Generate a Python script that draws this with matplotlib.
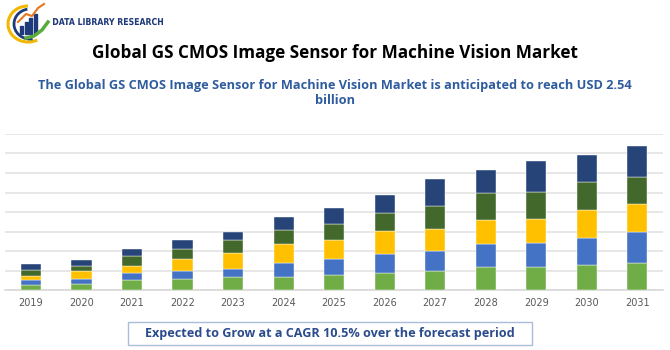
import matplotlib.pyplot as plt
import matplotlib.patches as mpatches
from matplotlib.textpath import TextPath
from matplotlib.font_manager import FontProperties
from matplotlib.transforms import Affine2D, IdentityTransform
import numpy as np

years = ['2019', '2020', '2021', '2022', '2023', '2024', '2025',
         '2026', '2027', '2028', '2029', '2030', '2031']
seg1 = [0.24, 0.29, 0.50, 0.55, 0.65, 0.68, 0.79, 0.87, 0.97, 1.16, 1.18, 1.28, 1.38]
seg2 = [0.29, 0.27, 0.35, 0.41, 0.43, 0.69, 0.78, 0.96, 1.01, 1.20, 1.23, 1.40, 1.61]
seg3 = [0.20, 0.40, 0.40, 0.61, 0.80, 0.99, 1.01, 1.21, 1.15, 1.23, 1.25, 1.42, 1.42]
seg4 = [0.31, 0.29, 0.49, 0.53, 0.68, 0.72, 0.80, 0.91, 1.16, 1.37, 1.38, 1.42, 1.38]
seg5 = [0.29, 0.27, 0.35, 0.45, 0.43, 0.66, 0.81, 0.94, 1.42, 1.18, 1.56, 1.42, 1.61]
colores = ['#70AD47', '#4472C4', '#FFC000', '#43682B', '#264478']

fig = plt.figure(figsize=(6.7, 3.5), dpi=100)
fig.patch.set_facecolor('white')

# Grafico de barras apiladas
ax = fig.add_axes([5 / 670, 1 - 290 / 350, 658 / 670, 156 / 350])
x = np.arange(len(years))
base = np.zeros(len(years))
for serie, color in zip([seg1, seg2, seg3, seg4, seg5], colores):
    ax.bar(x, serie, width=0.4, bottom=base, color=color,
           edgecolor='white', linewidth=0.3, zorder=3)
    base += np.array(serie)

ax.set_xlim(-0.515, 12.51)
ax.set_ylim(0, 8)
ax.set_yticks(range(0, 9))
ax.yaxis.grid(True, color='#E3E3E3', linewidth=1.2, zorder=0)
ax.set_yticklabels([])
ax.tick_params(axis='y', length=0)
ax.set_xticks(x)
ax.set_xticklabels(years, fontsize=7, color='#595959')
ax.tick_params(axis='x', length=0, pad=6)
for s in ['top', 'right', 'left']:
    ax.spines[s].set_visible(False)
ax.spines['bottom'].set_color('#D9D9D9')
ax.spines['bottom'].set_linewidth(1.2)

# Titulos
fig.text(0.5, 1 - 53 / 350, 'Global GS CMOS Image Sensor for Machine Vision Market',
         ha='center', va='center', fontsize=12.3, fontweight='bold',
         color='black', family='Open Sans')
fig.text(0.5, 1 - 85 / 350,
         'The Global GS CMOS Image Sensor for Machine Vision Market is anticipated to reach USD 2.54',
         ha='center', va='center', fontsize=9.2, fontweight='bold',
         color='#2E5C9E', family='Open Sans')
fig.text(0.5, 1 - 101 / 350, 'billion', ha='center', va='center', fontsize=9.2,
         fontweight='bold', color='#2E5C9E', family='Open Sans')

# Caja inferior
fig.patches.append(mpatches.Rectangle((128 / 670, 1 - 345 / 350), 404 / 670, 23 / 350,
                                      transform=fig.transFigure, facecolor='white',
                                      edgecolor='#A9BCD8', linewidth=1))
fig.text(330 / 670, 1 - 333 / 350, 'Expected to Grow at a CAGR 10.5% over the forecast period',
         ha='center', va='center', fontsize=9.1, fontweight='bold',
         color='#2B4C8C', family='Open Sans')

# Logo
lg = fig.add_axes([4 / 670, 1 - 44 / 350, 50 / 670, 42 / 350])
lg.set_xlim(0, 50)
lg.set_ylim(0, 42)
lg.axis('off')
lg.add_patch(mpatches.Arc((24, 20), 40, 36, theta1=90, theta2=300, color='#F2B800', linewidth=2.2))
lg.add_patch(mpatches.Arc((26, 20), 32, 30, theta1=100, theta2=280, color='#1F3A7A', linewidth=2))
for i, h in enumerate([8, 12, 16, 20]):
    lg.add_patch(mpatches.Rectangle((16 + i * 4.5, 10), 3.2, h, color='#1F3A7A'))
lg.plot([14, 22, 28, 34, 40], [22, 30, 28, 36, 40], color='#E8761E', linewidth=1.5)
lg.plot([22, 30, 38, 44], [6, 8, 14, 22], color='#5BAA3C', linewidth=2.5)

# texto del logo, comprimido en horizontal
tp = TextPath((0, 0), 'DATA LIBRARY RESEARCH', size=9.5,
              prop=FontProperties(family='DejaVu Sans', weight='bold'))
ext = tp.get_extents()
sx = 110 / ext.width
tr = Affine2D().translate(-ext.x0, 0).scale(sx, 1.0).translate(53, 350 - 25)
fig.patches.append(mpatches.PathPatch(tr.transform_path(tp), transform=IdentityTransform(),
                                      facecolor='#1F3A7A', edgecolor='none'))

fig.savefig('out.png', dpi=100, facecolor='white')
